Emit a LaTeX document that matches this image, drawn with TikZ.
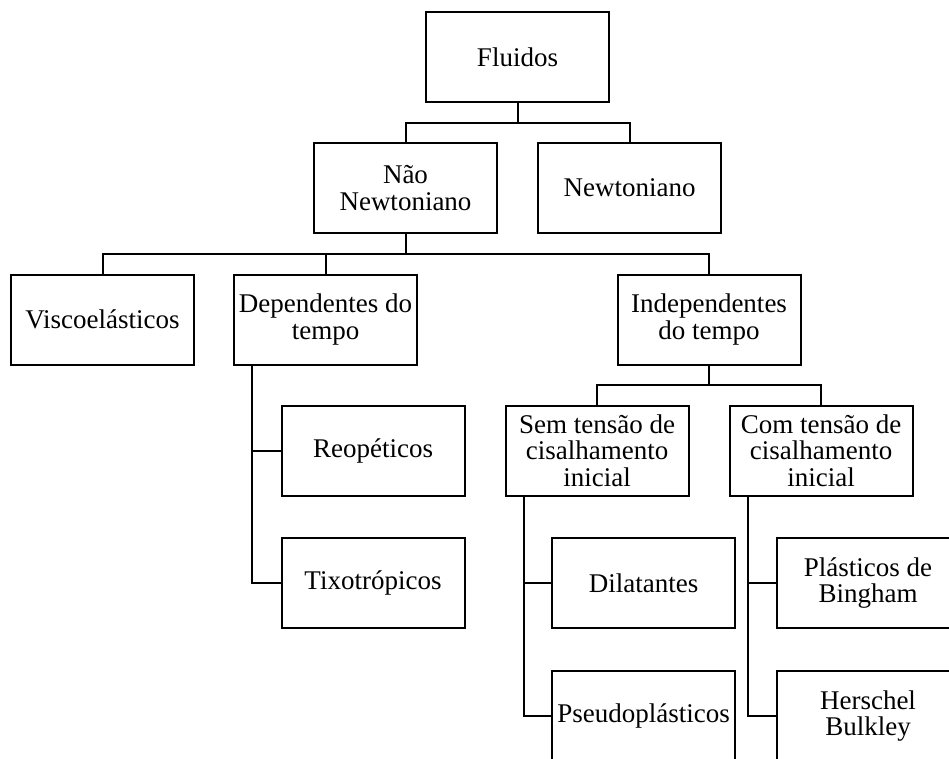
\documentclass[tikz,border=0pt]{standalone}
\usepackage{fontspec}
\setmainfont{Liberation Serif}
\usepackage{tikz}
\usetikzlibrary{calc}

\begin{document}
\begin{tikzpicture}[x=0.75pt, y=-0.75pt, align=center, line width=1.5pt,
    caixa/.style={draw, minimum width=137.25pt, minimum height=67.5pt, inner sep=0pt,
        font=\fontsize{20.25}{20}\selectfont}]
    \useasboundingbox (0,0) rectangle (949,758);
    \clip (0,0) rectangle (949,758);

    \node[caixa] at (517.5,57) (fluidos) {Fluidos};
    \node[caixa] at (405.5,188) (nao_newt) {Não \\ Newtoniano};
    \node[caixa] at (629.5,188) (newt) {Newtoniano};

    \node[caixa] at (102.5,319.5) (visco) {Viscoelásticos};
    \node[caixa] at (325.5,319.5) (dep_tempo) {Dependentes do \\ tempo};
    \node[caixa] at (709,319.5) (indep_tempo) {Independentes \\ do tempo};

    \node[caixa] at (373,451) (reo) {Reopéticos};
    \node[caixa] at (373,583) (tixo) {Tixotrópicos};

    \node[caixa] at (597,450.5) (sem_tensao) {Sem tensão de \\ cisalhamento \\ inicial};
    \node[caixa] at (821,450.5) (com_tensao) {Com tensão de \\ cisalhamento \\ inicial};

    \node[caixa] at (643.5,583) (dil) {Dilatantes};
    \node[caixa] at (643.5,716) (pseudo) {Pseudoplásticos};
    \node[caixa] at (868,583) (bingham) {Plásticos de \\ Bingham};
    \node[caixa] at (868,716) (herschel) {Herschel \\ Bulkley};

    % ligacoes de cima para baixo
    \draw (fluidos.south) -- ++(0,20) -| (nao_newt.north);
    \draw (fluidos.south) -- ++(0,20) -| (newt.north);
    \draw (nao_newt.south) -- ++(0,20) -| (visco.north);
    \draw (nao_newt.south) -- ++(0,20) -| (dep_tempo.north);
    \draw (nao_newt.south) -- ++(0,20) -| (indep_tempo.north);
    \draw (indep_tempo.south) -- ++(0,19) -| (sem_tensao.north);
    \draw (indep_tempo.south) -- ++(0,19) -| (com_tensao.north);

    % ligacoes laterais
    \draw ($(dep_tempo.south west)+(19,0)$) |- (reo.west);
    \draw ($(dep_tempo.south west)+(19,0)$) |- (tixo.west);
    \draw ($(sem_tensao.south west)+(19,0)$) |- (dil.west);
    \draw ($(sem_tensao.south west)+(19,0)$) |- (pseudo.west);
    \draw ($(com_tensao.south west)+(19,0)$) |- (bingham.west);
    \draw ($(com_tensao.south west)+(19,0)$) |- (herschel.west);
\end{tikzpicture}
\end{document}
